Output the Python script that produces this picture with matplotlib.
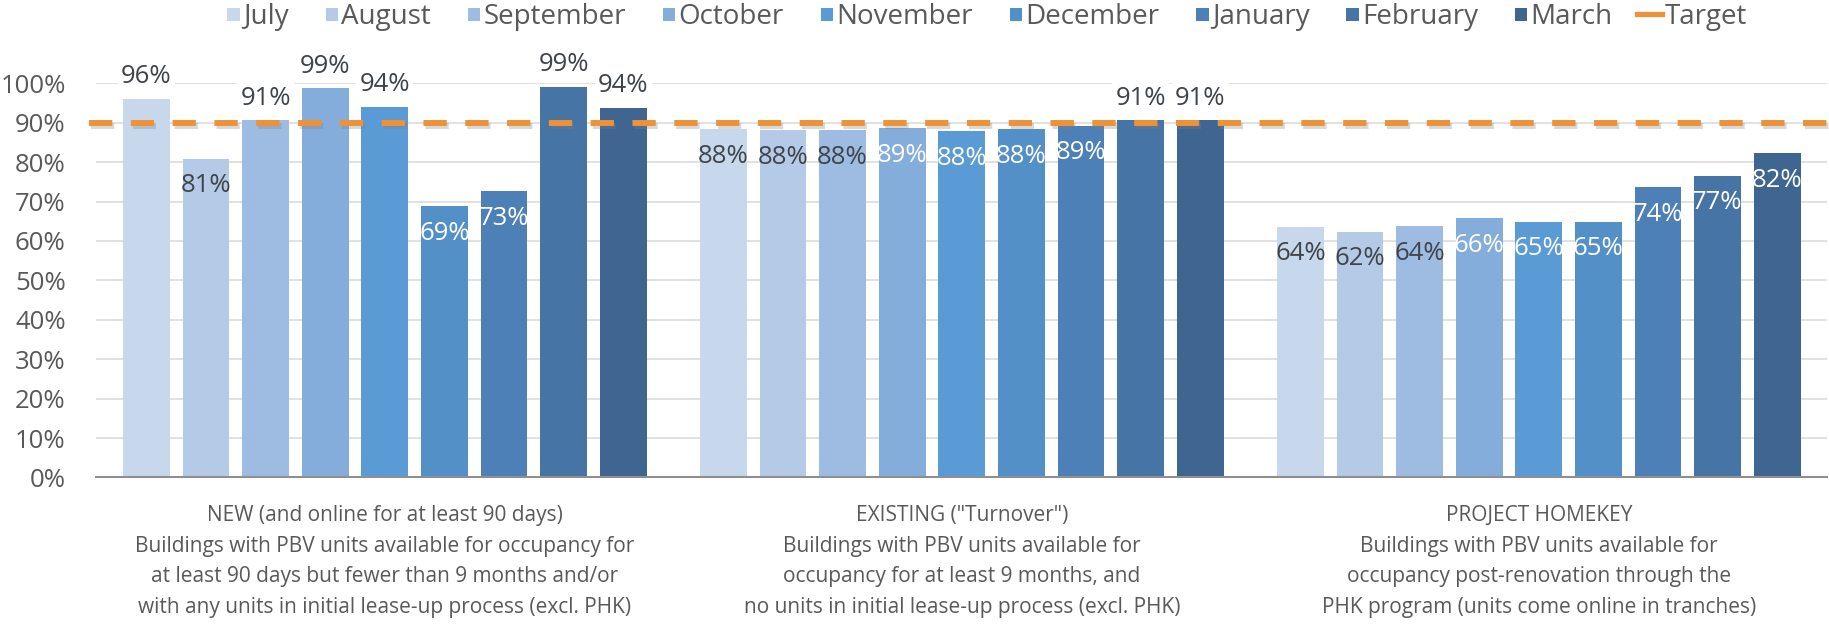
"""
plot.py
Occupancy rate by building type, July to March, against the 90% target.
Saves the chart as out.png.
"""
import numpy as np
import matplotlib
matplotlib.use("Agg")
import matplotlib.pyplot as plt
import matplotlib.patheffects as pe
from matplotlib.lines import Line2D
from matplotlib.patches import Rectangle
from matplotlib.legend_handler import HandlerPatch

months = ["July", "August", "September", "October", "November",
          "December", "January", "February", "March"]

categories = [
    "NEW (and online for at least 90 days)\n"
    "Buildings with PBV units available for occupancy for\n"
    "at least 90 days but fewer than 9 months and/or\n"
    "with any units in initial lease-up process (excl. PHK)",
    "EXISTING (\"Turnover\")\n"
    "Buildings with PBV units available for\n"
    "occupancy for at least 9 months, and\n"
    "no units in initial lease-up process (excl. PHK)",
    "PROJECT HOMEKEY\n"
    "Buildings with PBV units available for\n"
    "occupancy post-renovation through the\n"
    "PHK program (units come online in tranches)",
]

# occupancy (%) per month, one list per category
new_vals = [96.1, 80.9, 90.6, 98.7, 94.0, 68.8, 72.6, 99.1, 93.7]
existing_vals = [88.4, 88.1, 88.1, 88.6, 87.8, 88.3, 89.2, 90.6, 90.6]
homekey_vals = [63.6, 62.3, 63.7, 65.7, 64.9, 64.9, 73.6, 76.6, 82.3]
target = 90

yticks = [0, 10, 20, 30, 40, 50, 60, 70, 80, 90, 100]

colors = ["#C8D8EC", "#B4CAE7", "#9EBBE1", "#84ADDB", "#5A9AD5",
          "#5490C8", "#4C80B6", "#4574A5", "#3E6690"]
orange = "#EC9239"
grey_text = "#595959"
dark_label = "#3F434A"


def square_patch(legend, orig_handle, xdescent, ydescent, width, height, fontsize):
    # small square at the right end of the handle box, like Excel
    s = 9
    return Rectangle((-xdescent + width - s, -ydescent + (height - s) / 2), s, s)


def main():
    plt.rcParams["font.family"] = ["Open Sans", "DejaVu Sans"]

    fig = plt.figure(figsize=(18.29, 6.28), dpi=100)
    ax = fig.add_axes([0.05265, 0.2397, 0.9464, 0.6277])

    pitch = 0.1033
    width = 0.081
    x = np.arange(len(categories))

    handles = []
    for j, month in enumerate(months):
        heights = [new_vals[j], existing_vals[j], homekey_vals[j]]
        xs = x + (j - 4) * pitch
        bars = ax.bar(xs, heights, width, color=colors[j], label=month, zorder=2)
        handles.append(bars.patches[0])

        # data labels: outside end above target, inside end otherwise
        for xb, h in zip(xs, heights):
            txt = f"{h:.0f}%"
            if h >= target:
                ax.annotate(txt, (xb, h), xytext=(0, 16), textcoords="offset points",
                            ha="center", va="center", fontsize=18.5, color=dark_label,
                            bbox=dict(boxstyle="square,pad=0.12", fc="white", ec="none"),
                            zorder=3, annotation_clip=False)
            else:
                ax.annotate(txt, (xb, h), xytext=(0, -19.5), textcoords="offset points",
                            ha="center", va="center", fontsize=18.5,
                            color=dark_label if j < 3 else "white", zorder=3)

    # target line runs a bit past the plot area on both sides
    ax.axhline(target, xmin=-0.004, xmax=1.01, clip_on=False, color=orange,
               lw=4.3, dashes=(3.9, 3.1), zorder=4,
               path_effects=[pe.SimpleLineShadow(offset=(1.5, -2.5), shadow_color="#808080", alpha=0.3),
                             pe.Normal()])

    ax.set_xlim(-0.5, 2.5)
    ax.set_ylim(0, 100)
    ax.set_yticks(yticks)
    ax.set_yticklabels([f"{t}%" for t in yticks])
    ax.set_xticks(x)
    ax.set_xticklabels(categories)
    for lab in ax.get_xticklabels():
        lab.set_linespacing(1.59)

    ax.tick_params(axis="y", length=0, pad=22, labelsize=18.5, labelcolor=grey_text)
    ax.tick_params(axis="x", length=0, pad=20, labelsize=15, labelcolor=grey_text)

    ax.yaxis.grid(True, color="#D9D9D9", lw=1.1)
    ax.set_axisbelow(True)
    for side in ["top", "right", "left"]:
        ax.spines[side].set_visible(False)
    ax.spines["bottom"].set_color("#8F8F8F")
    ax.spines["bottom"].set_linewidth(1.5)

    target_handle = Line2D([], [], color=orange, lw=3.8)
    fig.legend(handles + [target_handle], months + ["Target"],
               loc="center", bbox_to_anchor=(0.5365, 1 - 17 / 628), ncol=10,
               frameon=False, fontsize=20, labelcolor=grey_text,
               handlelength=0.9, handleheight=0.7, handletextpad=0.12,
               columnspacing=0.87,
               handler_map={Rectangle: HandlerPatch(patch_func=square_patch)})

    fig.savefig("out.png", dpi=100)


if __name__ == "__main__":
    main()
